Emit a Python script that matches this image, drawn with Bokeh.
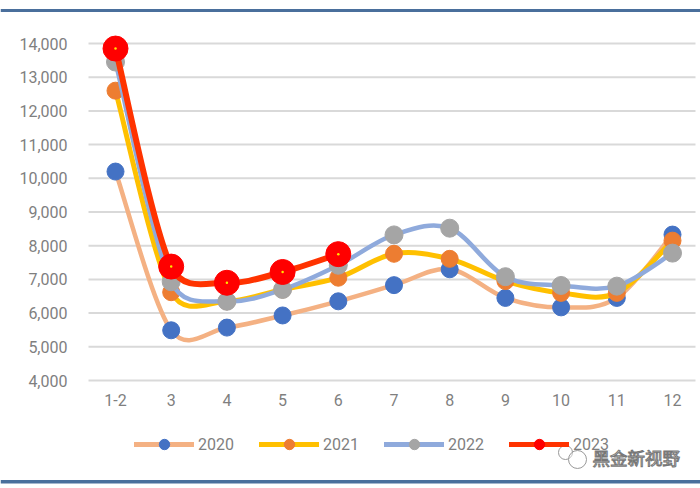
from math import hypot

from bokeh.embed import file_html
from bokeh.models import BoxAnnotation, FixedTicker, Label, Legend, LegendItem, NumeralTickFormatter, Range1d
from bokeh.plotting import figure
from bokeh.resources import INLINE

months = ["1-2", "3", "4", "5", "6", "7", "8", "9", "10", "11", "12"]
y2020 = [10200, 5490, 5570, 5930, 6350, 6830, 7300, 6450, 6170, 6450, 8330]
y2021 = [12600, 6620, 6350, 6700, 7050, 7760, 7610, 6950, 6600, 6600, 8150]
y2022 = [13450, 6930, 6350, 6700, 7420, 8320, 8520, 7080, 6820, 6800, 7780]
y2023 = [13850, 7380, 6900, 7220, 7750]
y_ticks = [4000, 5000, 6000, 7000, 8000, 9000, 10000, 11000, 12000, 13000, 14000]

FONT = "Roboto"
GREY = "#7f7f7f"
WIDTH, HEIGHT = 700, 488
X_SCALE, Y_SCALE = 55.7, 33.7 / 1000  # pixels per category, pixels per unit


# pixel helpers, the frame fills the whole picture
def px_x(px):
    return (px - 115) / X_SCALE


def px_y(py):
    return 14000 - (py - 43) / Y_SCALE


def handles(before, here, after):
    # excel limits the handle length by the neighbouring segment, measured on screen
    d_in = hypot(X_SCALE, (here - before) * Y_SCALE) if before is not None else 0
    d_out = hypot(X_SCALE, (after - here) * Y_SCALE) if after is not None else 0
    a = before if before is not None else here
    b = after if after is not None else here
    dx = X_SCALE * ((before is not None) + (after is not None))
    d_all = hypot(dx, (b - a) * Y_SCALE)
    f_in = min(1 / 6, d_in / 2 / d_all)
    f_out = min(1 / 6, d_out / 2 / d_all)
    span = (before is not None) + (after is not None)
    return f_in, f_out, span, b - a


def smooth(values):
    # one bezier per pair of points
    n = len(values)
    seg = dict(x0=[], y0=[], x1=[], y1=[], cx0=[], cy0=[], cx1=[], cy1=[])
    for i in range(n - 1):
        _, f_out, span0, rise0 = handles(values[i - 1] if i > 0 else None, values[i], values[i + 1])
        f_in, _, span1, rise1 = handles(values[i], values[i + 1], values[i + 2] if i + 2 < n else None)
        seg["x0"].append(i)
        seg["y0"].append(values[i])
        seg["x1"].append(i + 1)
        seg["y1"].append(values[i + 1])
        seg["cx0"].append(i + f_out * span0)
        seg["cy0"].append(values[i] + f_out * rise0)
        seg["cx1"].append(i + 1 - f_in * span1)
        seg["cy1"].append(values[i + 1] - f_in * rise1)
    return seg


p = figure(width=WIDTH, height=HEIGHT, output_backend="svg", toolbar_location=None,
           x_range=Range1d(px_x(0), px_x(WIDTH)), y_range=Range1d(px_y(HEIGHT), px_y(0)),
           min_border=0)
p.outline_line_color = None
p.xgrid.visible = False
p.ygrid.visible = False

# gridlines stop short of the axis labels
p.segment(x0=[px_x(88)] * len(y_ticks), x1=[px_x(695)] * len(y_ticks), y0=y_ticks, y1=y_ticks,
          line_color="#d9d9d9", line_width=2)

p.yaxis.fixed_location = px_x(87)
p.xaxis.fixed_location = 4000
p.yaxis.ticker = FixedTicker(ticks=y_ticks)
p.yaxis.formatter = NumeralTickFormatter(format="0,0")
p.xaxis.ticker = FixedTicker(ticks=list(range(len(months))))
p.xaxis.major_label_overrides = {i: m for i, m in enumerate(months)}
for ax in (p.xaxis, p.yaxis):
    ax.axis_line_color = None
    ax.major_tick_line_color = None
    ax.minor_tick_line_color = None
    ax.major_label_text_color = GREY
    ax.major_label_text_font = FONT
    ax.major_label_text_font_size = "16px"
p.xaxis.major_label_standoff = 7
p.yaxis.major_label_standoff = 14

series = [
    ("2020", y2020, "#f4b183", 4.5, "#4472c4", 17),
    ("2021", y2021, "#ffc000", 5, "#ed7d31", 17),
    ("2022", y2022, "#8faadc", 4.5, "#a5a5a5", 18),
    ("2023", y2023, "#ff3300", 6, "#ff0000", 25),
]

items = []
for name, values, line_color, line_width, marker_color, size in series:
    xs = list(range(len(values)))
    p.bezier(line_color=line_color, line_width=line_width, line_cap="round", **smooth(values))
    dots = p.scatter(xs, values, size=size, fill_color=marker_color, line_color=marker_color)
    key = p.line([float("nan")], [float("nan")], line_color=line_color, line_width=5, line_cap="round")
    items.append(LegendItem(label=name, renderers=[key, dots]))

# little yellow centre on the 2023 markers
p.scatter(list(range(len(y2023))), y2023, size=2.5, fill_color="#ffe600", line_color=None)

legend = Legend(items=items, orientation="horizontal", location=(134, 31), glyph_width=60, glyph_height=26,
                label_standoff=4, spacing=25, padding=0, margin=0,
                background_fill_alpha=0, border_line_color=None,
                label_text_font=FONT, label_text_font_size="16px", label_text_color=GREY)
p.add_layout(legend)

# blue rules at top and bottom of the page
for top, bottom in ((8.5, 11.5), (479.5, 483)):
    p.add_layout(BoxAnnotation(left=px_x(0), right=px_x(WIDTH), top=px_y(top), bottom=px_y(bottom),
                               fill_color="#4a6f9c", fill_alpha=1, line_color=None))

# watermark
for cx, cy, r in ((565, 452, 7), (577, 459, 9)):
    p.scatter([px_x(cx)], [px_y(cy)], size=2 * r, marker="circle", fill_color="white", fill_alpha=0.4,
              line_color="#999999", line_width=1)
p.add_layout(Label(x=px_x(592), y=px_y(457), text="黑金新视野", text_font="Noto Sans CJK SC",
                   text_font_size="17.5px", text_color="#ffffff", text_outline_color="#777777",
                   text_baseline="middle"))

open("out.html", "w").write(file_html(p, INLINE))
